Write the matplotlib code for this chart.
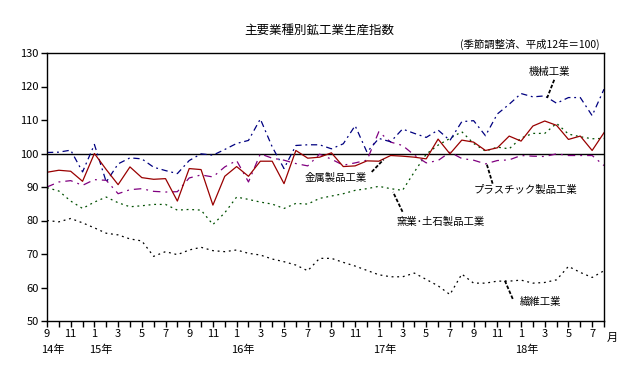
import matplotlib
import matplotlib.pyplot as plt

matplotlib.use("Agg")

plt.rcParams["font.family"] = ["Noto Sans CJK JP", "DejaVu Sans"]

# 平成14年9月 .. 平成18年8月 (48 months)
start_month = 9
n_months = 48

machinery = [100.3, 100.4, 101.0, 94.5, 102.7, 91.5, 96.9, 98.7, 98.4, 95.9, 94.9, 94.0,
             97.9, 99.9, 99.5, 101.2, 103.0, 103.9, 110.3, 102.0, 95.5, 102.4, 102.6, 102.6,
             101.4, 102.9, 108.3, 100.4, 104.5, 103.5, 107.3, 106.0, 104.8, 107.0, 103.9, 109.5,
             109.8, 105.3, 111.8, 114.7, 117.9, 116.9, 117.2, 115.0, 116.7, 116.7, 111.3, 119.2]
metal = [94.4, 95.0, 94.7, 91.7, 100.0, 95.2, 90.7, 96.0, 92.8, 92.3, 92.5, 85.8,
         95.5, 95.2, 84.6, 93.2, 96.1, 93.2, 97.7, 97.7, 91.0, 100.9, 98.6, 98.9,
         100.2, 96.1, 96.3, 97.8, 97.7, 99.4, 99.2, 98.9, 98.4, 104.3, 99.9, 104.0,
         103.4, 100.9, 101.7, 105.2, 103.7, 108.2, 109.7, 108.4, 104.2, 105.2, 100.9, 106.2]
plastic = [90.0, 91.5, 91.9, 90.5, 92.2, 92.0, 88.0, 89.2, 89.5, 88.7, 88.5, 88.6,
           92.7, 93.6, 93.0, 96.0, 97.9, 91.5, 99.9, 98.6, 98.0, 97.0, 96.3, 99.8,
           98.3, 96.5, 97.2, 98.0, 106.5, 103.4, 102.4, 99.5, 97.2, 97.9, 100.4, 98.5,
           98.0, 96.9, 97.9, 98.1, 99.4, 99.2, 99.1, 99.9, 99.4, 99.4, 99.4, 96.4]
ceramics = [89.8, 88.8, 85.8, 83.6, 85.5, 87.0, 85.3, 84.1, 84.4, 84.8, 84.8, 83.1,
            83.3, 83.1, 78.8, 82.3, 87.0, 86.3, 85.5, 84.9, 83.6, 85.1, 84.9, 86.6,
            87.3, 88.0, 89.0, 89.5, 90.2, 89.5, 89.0, 94.5, 99.8, 102.5, 104.5, 106.5,
            103.0, 100.7, 101.9, 101.4, 104.6, 106.0, 106.0, 109.0, 105.8, 105.0, 104.4, 104.5]
textile = [80.0, 79.6, 80.6, 79.3, 77.8, 76.2, 75.7, 74.5, 73.9, 69.3, 70.7, 69.8,
           71.2, 72.0, 71.0, 70.7, 71.2, 70.2, 69.7, 68.5, 67.7, 66.7, 65.0, 68.7,
           68.7, 67.5, 66.4, 65.1, 63.8, 63.2, 63.2, 64.3, 62.4, 60.5, 57.9, 64.0,
           61.3, 61.3, 61.9, 61.9, 62.2, 61.3, 61.5, 62.3, 66.3, 64.5, 63.0, 65.0]

year_labels = ["14年", "15年", "16年", "17年", "18年"]
year_positions = [0, 4, 16, 28, 40]

labels = [
    # text, text pos, pointer start, pointer end
    ("機械工業", (42.4, 124.3), (42.8, 122.0), (42.2, 116.6)),
    ("金属製品工業", (24.4, 92.6), (27.4, 94.5), (28.4, 98.2)),
    ("窯業･土石製品工業", (33.2, 79.5), (30.0, 82.6), (29.2, 88.5)),
    ("プラスチック製品工業", (40.4, 89.0), (37.6, 91.0), (37.1, 96.9)),
    ("繊維工業", (41.6, 55.8), (39.3, 56.6), (38.6, 62.3)),
]

x = list(range(n_months))
month_of = [(start_month - 1 + i) % 12 + 1 for i in x]

fig = plt.figure(figsize=(6.29, 3.66), dpi=100)
ax = fig.add_axes([47 / 629, 1 - 321 / 366, 557 / 629, 268 / 366])

ax.axhline(100, color="black", lw=1.0, zorder=1)
ax.plot(x, textile, color="black", lw=0.9, ls=(0, (1.5, 3)))
ax.plot(x, ceramics, color="#005000", lw=0.9, ls=(0, (1.5, 3)))
ax.plot(x, plastic, color="#800080", lw=0.9, ls=(0, (6, 4, 1.5, 4)))
ax.plot(x, machinery, color="#000080", lw=0.9, ls=(0, (5, 3, 1.5, 3)))
ax.plot(x, metal, color="#990000", lw=0.9)

ax.set_xlim(0, n_months - 1)
ax.set_ylim(50, 130)
ax.set_yticks(range(50, 131, 10))
ax.set_xticks(x)
ax.set_xticklabels([str(m) if i % 2 == 0 else "" for i, m in zip(x, month_of)])
ax.tick_params(axis="both", direction="out", length=4, width=1, labelsize=8, pad=2)
for sp in ax.spines.values():
    sp.set_linewidth(1.0)

for lab, pos in zip(year_labels, year_positions):
    ax.text(pos + 0.5, -0.09, lab, transform=ax.get_xaxis_transform(),
            ha="center", va="top", fontsize=8)
ax.text(1.015, -0.045, "月", transform=ax.transAxes, ha="center", va="top", fontsize=8)

for text, tpos, p0, p1 in labels:
    ax.text(tpos[0], tpos[1], text, ha="center", va="center", fontsize=7.5)
    ax.plot([p0[0], p1[0]], [p0[1], p1[1]], color="black", lw=1.3, ls=(0, (2, 1)))

fig.text(319 / 629, 1 - 30 / 366, "主要業種別鉱工業生産指数", ha="center", va="center", fontsize=9)
fig.text(600 / 629, 1 - 44 / 366, "(季節調整済、平成12年＝100)", ha="right", va="center", fontsize=7.5)

fig.savefig("out.png", dpi=100)
